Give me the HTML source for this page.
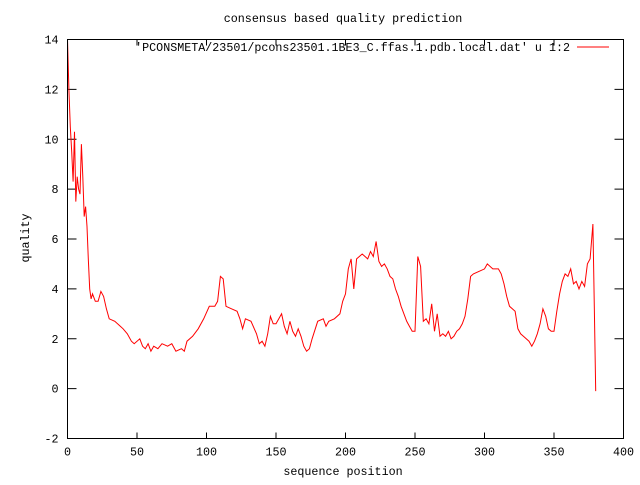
<!DOCTYPE html>
<html><head><meta charset="utf-8"><style>
body{margin:0;background:#fff}
svg text{font-family:"Liberation Mono",monospace;font-size:11.7px;fill:#000}
</style></head><body>
<svg id="chart" width="640" height="480" xmlns="http://www.w3.org/2000/svg">
<rect width="640" height="480" fill="#fff"/>
<text x="343" y="22" text-anchor="middle">consensus based quality prediction</text>
<text x="343" y="475" text-anchor="middle">sequence position</text>
<text transform="translate(29,238) rotate(-90)" text-anchor="middle">quality</text>
<g id="axes"></g>
<g id="legend">
<text x="570" y="51" text-anchor="end">'PCONSMETA/23501/pcons23501.1BE3_C.ffas.1.pdb.local.dat' u 1:2</text>
<line x1="577" y1="47" x2="609" y2="47" stroke="#f00" stroke-width="1"/>
</g>
<path id="series" fill="none" stroke="#f00" stroke-width="1"/>
<rect x="67.5" y="39.5" width="556" height="399" fill="none" stroke="#000"/>
</svg>
<script>
const xTicks=[0,50,100,150,200,250,300,350,400];
const yTicks=[-2,0,2,4,6,8,10,12,14];
const positions=[0,1,2,3,4,5,6,7,8,9,10,11,12,13,14,15,16,17,18,20,22,24,26,28,30,34,38,40,43,46,48,52,54,56,58,60,62,65,68,72,75,78,82,84,86,90,94,98,102,106,108,110,112,114,118,122,124,126,128,132,136,138,140,142,144,146,148,150,152,154,156,158,160,162,164,166,168,170,172,174,176,180,184,186,188,192,196,198,200,202,204,206,208,212,216,218,220,222,224,226,228,230,232,234,236,238,240,242,244,246,248,250,252,254,256,258,260,262,264,266,268,270,272,274,276,278,280,282,284,286,288,290,292,296,300,302,306,310,312,314,316,318,320,322,324,326,328,332,334,336,338,340,342,344,346,348,350,352,354,356,358,360,362,364,366,368,370,372,374,376,378,379,380];
const quality=[14,12,10.5,9.5,8.3,10.3,7.5,8.5,8,7.8,9.8,8.5,6.9,7.3,6.5,5.2,4,3.6,3.8,3.5,3.5,3.9,3.7,3.2,2.8,2.7,2.5,2.4,2.2,1.9,1.8,2,1.7,1.6,1.8,1.5,1.7,1.6,1.8,1.7,1.8,1.5,1.6,1.5,1.9,2.1,2.4,2.8,3.3,3.3,3.5,4.5,4.4,3.3,3.2,3.1,2.8,2.4,2.8,2.7,2.2,1.8,1.9,1.7,2.2,2.9,2.6,2.6,2.8,3,2.5,2.2,2.7,2.3,2.1,2.4,2.1,1.7,1.5,1.6,2,2.7,2.8,2.5,2.7,2.8,3,3.5,3.8,4.8,5.2,4,5.2,5.4,5.2,5.5,5.3,5.9,5.1,4.9,5,4.8,4.5,4.4,4,3.7,3.3,3,2.7,2.5,2.3,2.3,5.3,4.9,2.7,2.8,2.6,3.4,2.3,3,2.1,2.2,2.1,2.3,2,2.1,2.3,2.4,2.6,2.9,3.6,4.5,4.6,4.7,4.8,5,4.8,4.8,4.6,4.2,3.7,3.3,3.2,3.1,2.4,2.2,2.1,1.9,1.7,1.9,2.2,2.6,3.2,2.9,2.4,2.3,2.3,3.1,3.8,4.3,4.6,4.5,4.8,4.2,4.3,4,4.3,4.1,5,5.2,6.6,3.3,-0.1];
const X0=67.5,X1=623.5,Y0=438.5,Y1=39.5;
const sx=v=>X0+(v-0)/(400-0)*(X1-X0);
const sy=v=>Y0-(v+2)/(14+2)*(Y0-Y1);
const NS="http://www.w3.org/2000/svg";
const ax=document.getElementById('axes');
function mk(tag,attrs){const e=document.createElementNS(NS,tag);for(const k in attrs)e.setAttribute(k,attrs[k]);return e;}
xTicks.forEach(t=>{
  const x=sx(t);
  const a=mk('line',{x1:x,y1:Y0,x2:x,y2:Y0-6,stroke:'#000'});
  
  
  ax.appendChild(a);
  const b=mk('line',{x1:x,y1:Y1,x2:x,y2:Y1+6,stroke:'#000'});
  
  
  ax.appendChild(b);
  const l=mk('text',{x:x,y:Y0+17,'text-anchor':'middle'});
  
  
  l.textContent=t;ax.appendChild(l);
});
yTicks.forEach(t=>{
  const y=sy(t);
  const a=mk('line',{x1:X0,y1:y,x2:X0+9,y2:y,stroke:'#000'});
  
  
  ax.appendChild(a);
  const b=mk('line',{x1:X1,y1:y,x2:X1-9,y2:y,stroke:'#000'});
  
  
  ax.appendChild(b);
  const l=mk('text',{x:X0-9,y:y+4,'text-anchor':'end'});
  
  
  l.textContent=t;ax.appendChild(l);
});
document.getElementById('series').setAttribute('d',positions.map((p,i)=>(i?'L':'M')+sx(p).toFixed(1)+' '+sy(quality[i]).toFixed(1)).join(' '));
</script>
</body></html>
